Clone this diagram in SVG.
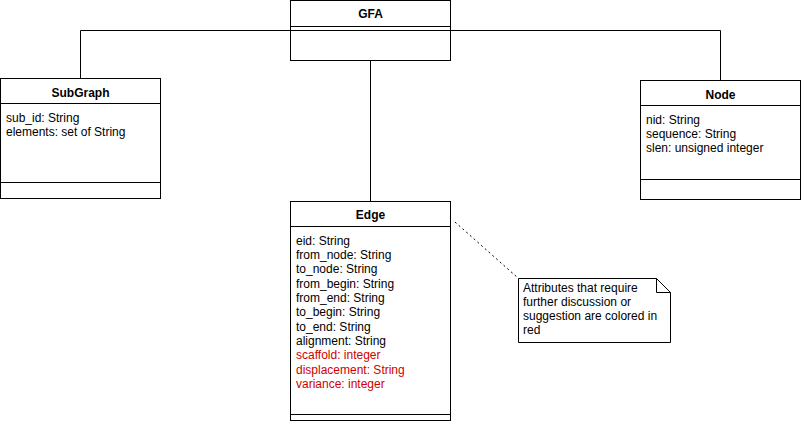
<svg xmlns="http://www.w3.org/2000/svg" width="802" height="422" viewBox="0 0 802 422">
<style>
.box{fill:#fff;stroke:#000;stroke-width:1}
.ln{stroke:#000;stroke-width:1;fill:none}
.conn{stroke:#000;stroke-width:1;fill:none}
.title{font-family:"Liberation Sans",Arial,sans-serif;font-size:12px;font-weight:bold;text-anchor:middle;fill:#000}
.attr{font-family:"Liberation Sans",Arial,sans-serif;font-size:12px;fill:#000}
.red{fill:#d00000}
</style>
<rect width="802" height="422" fill="#fff"/>
<g id="connectors">
<polyline class="conn" points="291,30.5 80.5,30.5 80.5,78"/>
<polyline class="conn" points="450,30.5 720.5,30.5 720.5,80"/>
<line class="conn" x1="370.5" y1="61" x2="370.5" y2="201"/>
<line class="conn" x1="455" y1="222" x2="518" y2="278" stroke-dasharray="2,3"/>
</g>
<g id="GFA">
<rect class="box" x="290.5" y="0.5" width="160" height="60"/>
<line class="ln" x1="290.5" y1="26.5" x2="450.5" y2="26.5"/>
<line class="ln" x1="290.5" y1="30.5" x2="450.5" y2="30.5"/>
<text class="title" x="370.5" y="18">GFA</text>
</g>
<g id="SubGraph">
<rect class="box" x="0.5" y="78.5" width="160" height="120"/>
<line class="ln" x1="0.5" y1="103.5" x2="160.5" y2="103.5"/>
<line class="ln" x1="0.5" y1="182.5" x2="160.5" y2="182.5"/>
<text class="title" x="80.5" y="97">SubGraph</text>
<text class="attr" x="6" y="122">sub_id: String</text>
<text class="attr" x="6" y="136">elements: set of String</text>
</g>
<g id="Node">
<rect class="box" x="640.5" y="80.5" width="160" height="119"/>
<line class="ln" x1="640.5" y1="105.5" x2="800.5" y2="105.5"/>
<line class="ln" x1="640.5" y1="179.5" x2="800.5" y2="179.5"/>
<text class="title" x="720.5" y="99">Node</text>
<text class="attr" x="646" y="124">nid: String</text>
<text class="attr" x="646" y="138">sequence: String</text>
<text class="attr" x="646" y="152">slen: unsigned integer</text>
</g>
<g id="Edge">
<rect class="box" x="290.5" y="201.5" width="160" height="219"/>
<line class="ln" x1="290.5" y1="226.5" x2="450.5" y2="226.5"/>
<line class="ln" x1="290.5" y1="414.5" x2="450.5" y2="414.5"/>
<text class="title" x="370.5" y="219">Edge</text>
<text class="attr" x="296" y="245">eid: String</text>
<text class="attr" x="296" y="259">from_node: String</text>
<text class="attr" x="296" y="273">to_node: String</text>
<text class="attr" x="296" y="288">from_begin: String</text>
<text class="attr" x="296" y="302">from_end: String</text>
<text class="attr" x="296" y="316">to_begin: String</text>
<text class="attr" x="296" y="331">to_end: String</text>
<text class="attr" x="296" y="345">alignment: String</text>
<text class="attr red" x="296" y="359">scaffold: integer</text>
<text class="attr red" x="296" y="374">displacement: String</text>
<text class="attr red" x="296" y="388">variance: integer</text>
</g>
<g id="Note">
<path class="box" d="M518.5,278.5 H656.5 L670.5,292.5 V342.5 H518.5 Z"/>
<path class="ln" d="M656.5,278.5 V292.5 H670.5"/>
<text class="attr" x="523" y="292">Attributes that require</text>
<text class="attr" x="523" y="306">further discussion or</text>
<text class="attr" x="523" y="320">suggestion are colored in</text>
<text class="attr" x="523" y="334">red</text>
</g>
</svg>
